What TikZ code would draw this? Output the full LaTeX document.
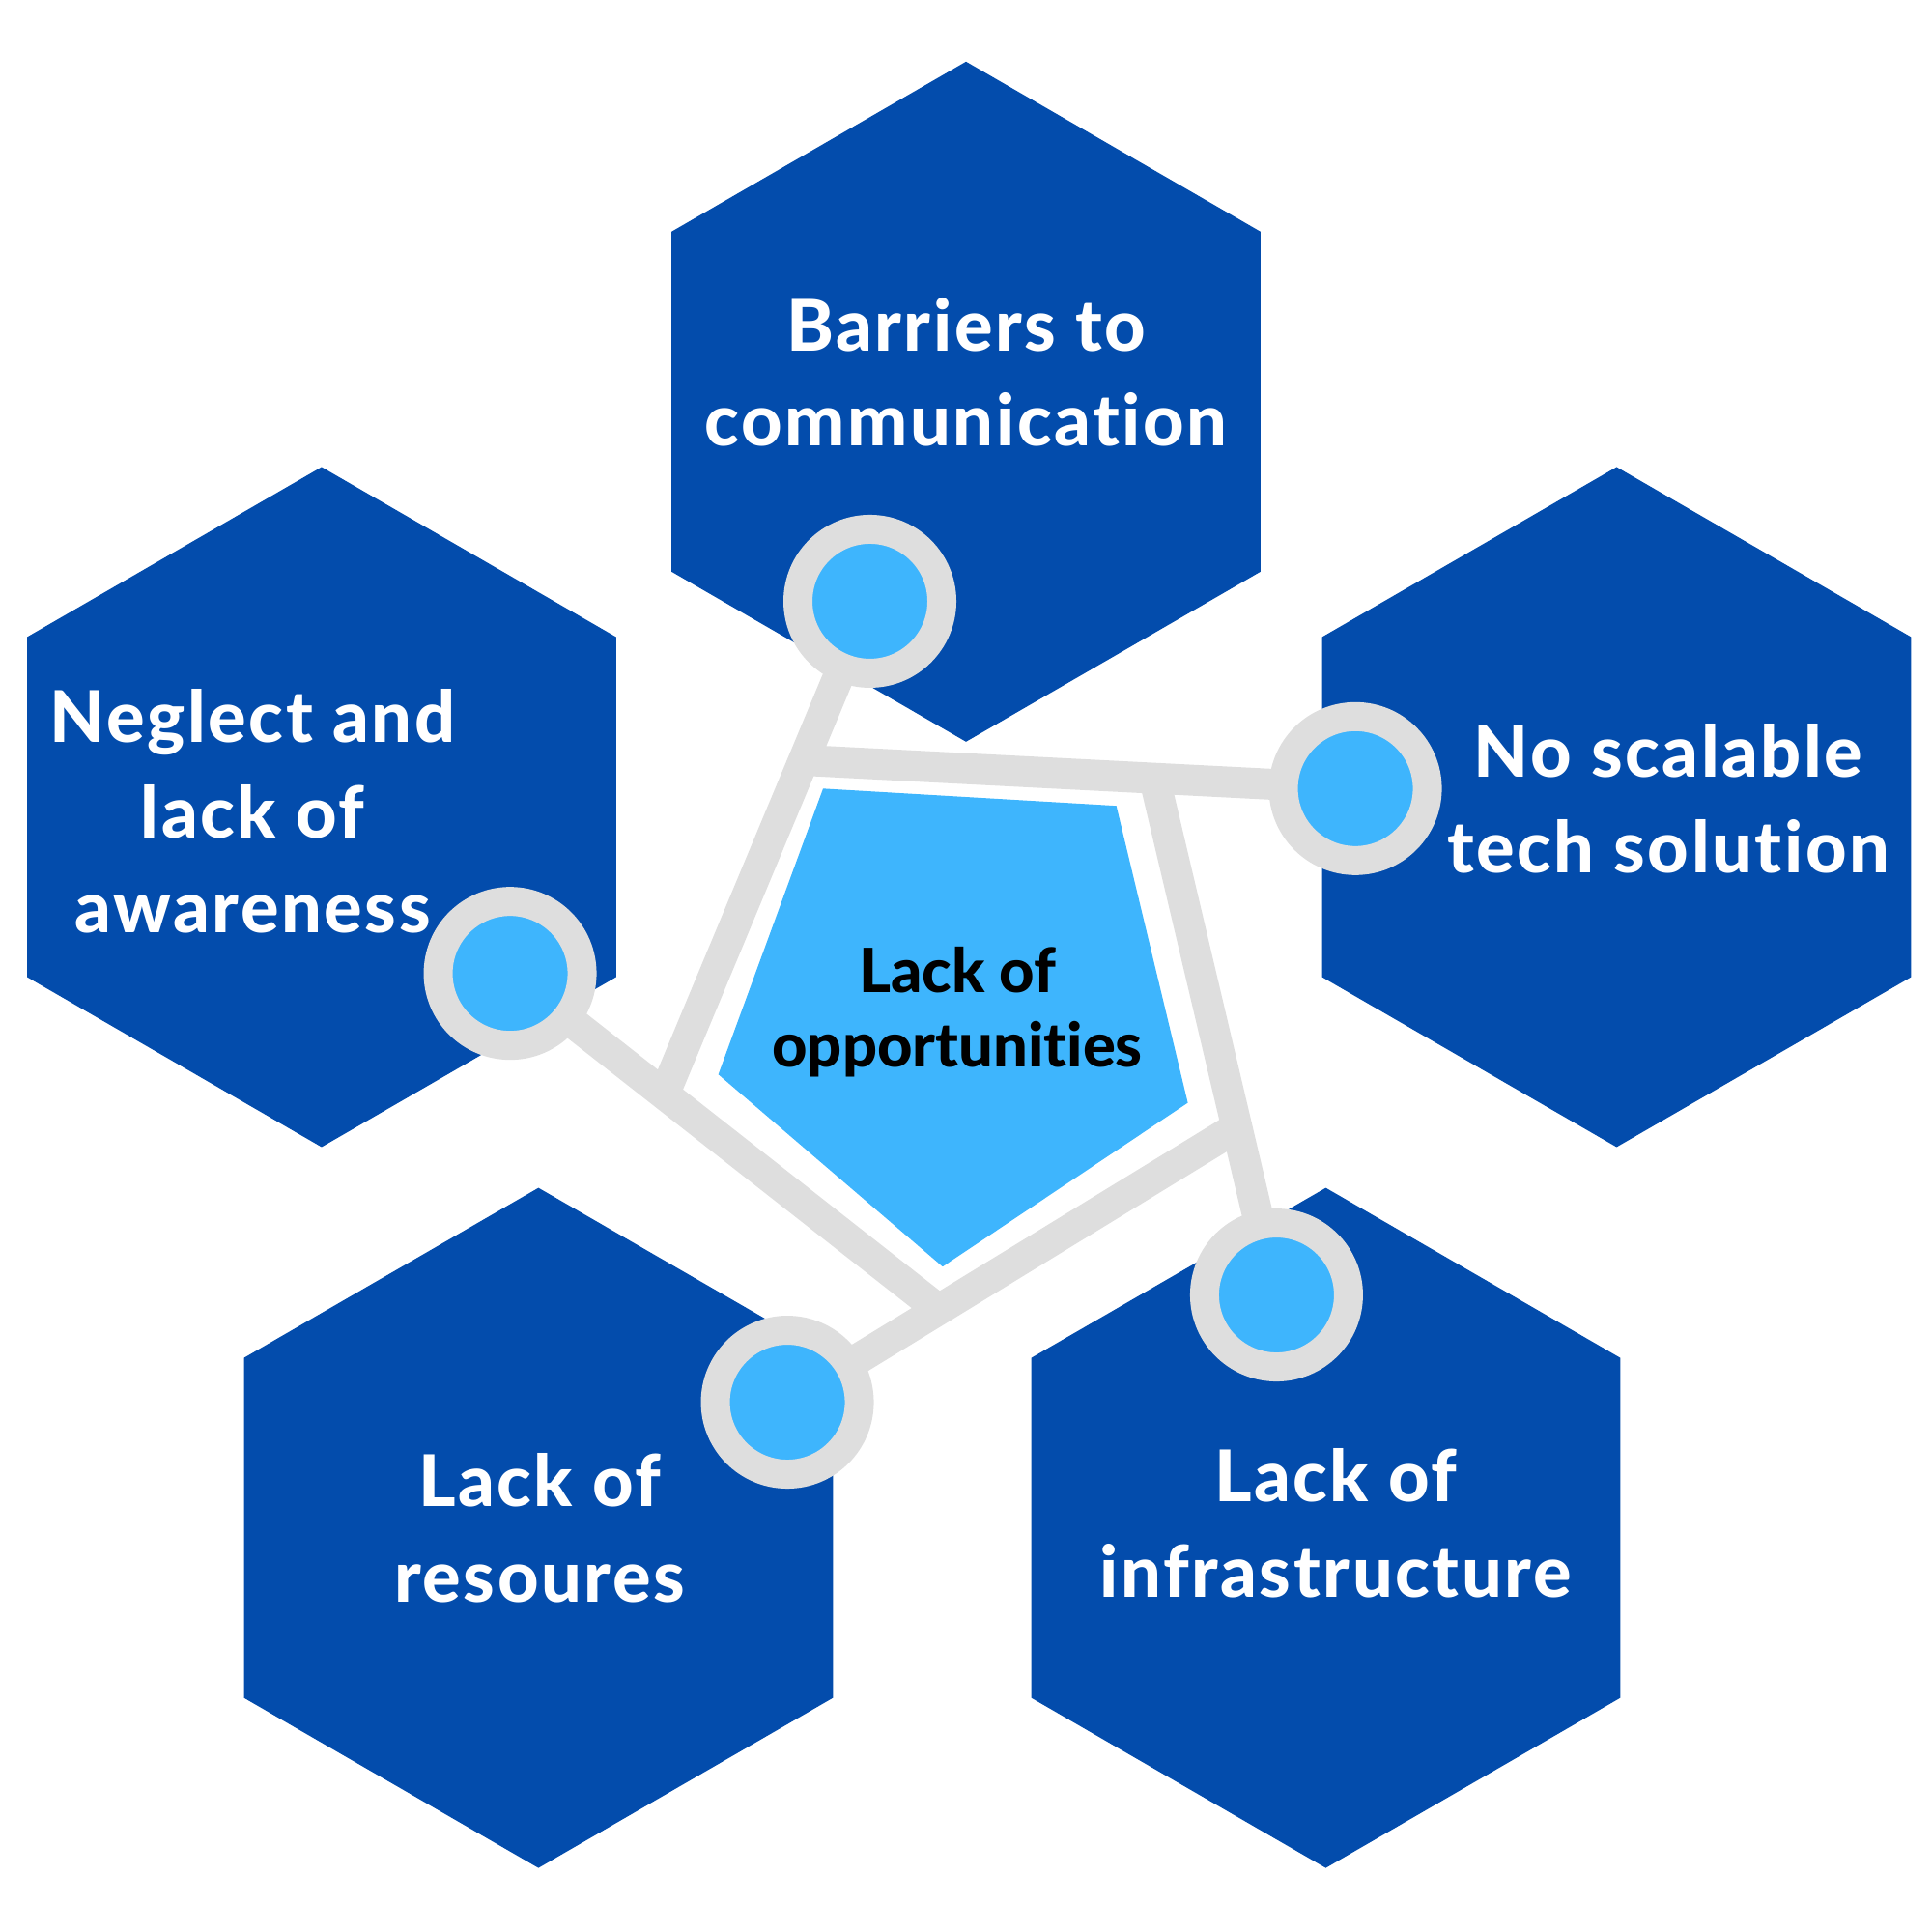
\documentclass[tikz,border=0pt]{standalone}
\usepackage{fontspec}
\setmainfont{Lato}[Ligatures=NoCommon, BoldFont={Lato Heavy}]
\newfontfamily\breit{Lato}[Ligatures=NoCommon, BoldFont={Lato Heavy}, LetterSpace=3.5]
\usetikzlibrary{shapes.geometric}

\definecolor{dunkelblau}{HTML}{034CAC}
\definecolor{hellblau}{HTML}{3EB5FD}
\definecolor{hellgrau}{HTML}{DEDEDE}

\tikzset{
	hexa/.style={regular polygon, regular polygon sides=6, rotate=30, minimum size=7.04cm, inner sep=0pt, fill=dunkelblau},
	knoten/.style={circle, minimum size=1.49cm, inner sep=0pt, line width=0.30cm, draw=hellgrau, fill=hellblau},
	speiche/.style={line width=0.32cm, draw=hellgrau, shorten <=-2pt},
	schrift/.style={align=center, anchor=base, text=white, font=\breit\bfseries\fontsize{21}{28}\selectfont}
}

\begin{document}
\begin{tikzpicture}[x=1.2755cm, y=-1.2755cm]
	\useasboundingbox (0,0) rectangle (15.68,15.68);
	
	% Sechsecke
	\foreach \n/\x/\y in {hBar/7.84/3.26, hNeg/2.61/6.55, hTech/13.12/6.55, hRes/4.37/12.40, hInf/10.76/12.40} {
		\node[hexa] (\n) at (\x,\y) {};
	}
	
	% Fuenfeck in der Mitte
	\fill[hellblau] (6.68,6.40) -- (9.06,6.54) -- (9.64,8.95) -- (7.65,10.28) -- (5.83,8.72) -- cycle;
	
	% Ecken des grauen Rahmens
	\coordinate (vTL) at (6.51,6.17);
	\coordinate (vTR) at (9.37,6.32);
	\coordinate (vR) at (10.02,9.16);
	\coordinate (vB) at (7.62,10.63);
	\coordinate (vL) at (5.40,8.86);
	
	% Kreise
	\foreach \n/\x/\y in {kBar/7.06/4.88, kTech/11.00/6.40, kNeg/4.14/7.90, kRes/6.39/11.38, kInf/10.36/10.51} {
		\node[knoten] (\n) at (\x,\y) {};
	}
	
	% Speichen vom Kreis bis zur Ecke
	\foreach \a/\b in {kBar/vL, kTech/vTL, kInf/vTR, kRes/vR, kNeg/vB} {
		\draw[speiche] (\a) -- (\b);
	}
	
	% Beschriftungen (Anker an der Grundlinie der letzten Zeile)
	\node[schrift] (tBar) at (7.84,3.62) {Barriers to\\communication};
	\node[schrift] (tNeg) at (2.05,7.57) {Neglect and\\lack of\\awareness};
	\node[schrift] (tTech) at (13.54,7.08) {No scalable\\tech solution};
	\node[schrift] (tRes) at (4.38,13.00) {Lack of\\resoures};
	\node[schrift] (tInf) at (10.84,12.96) {Lack of\\infrastructure};
	\node[schrift, text=black, font=\bfseries\fontsize{18}{21.8}\selectfont] (tOpp) at (7.77,8.66) {Lack of\\opportunities};
\end{tikzpicture}
\end{document}
